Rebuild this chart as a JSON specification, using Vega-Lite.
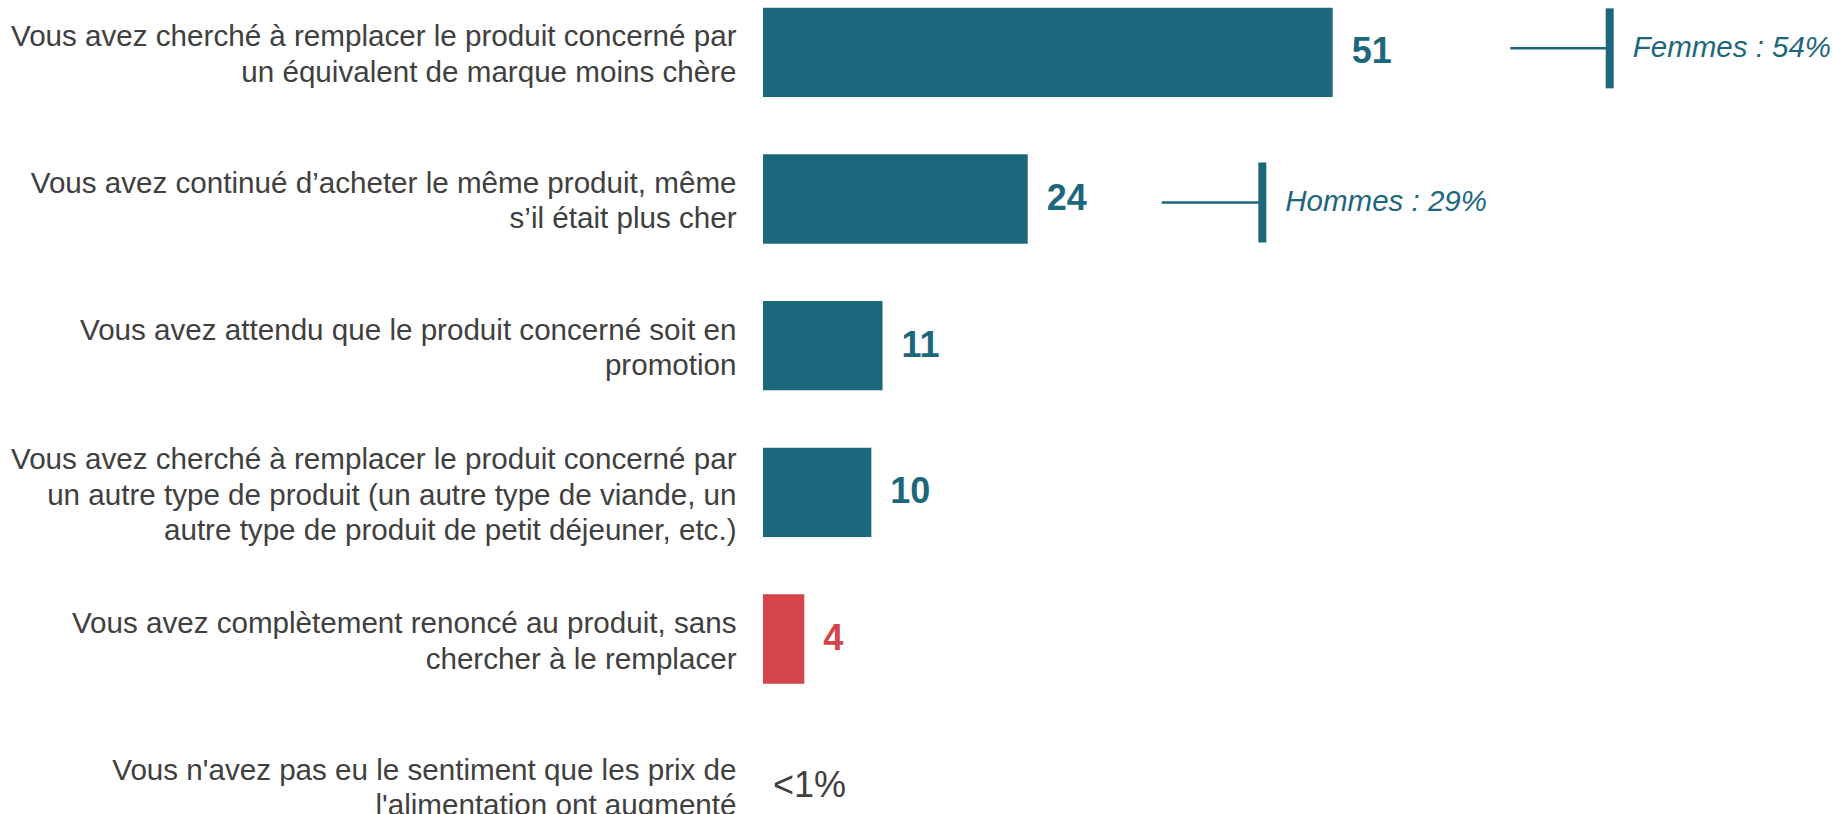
{
  "$schema": "https://vega.github.io/schema/vega-lite/v6.json",
  "width": 1069,
  "height": 814,
  "autosize": {"type": "none"},
  "padding": {"left": 763, "top": 0, "right": 0, "bottom": 0},
  "background": "white",
  "config": {
    "view": {"stroke": null},
    "font": "Liberation Sans",
    "axis": {"grid": false}
  },
  "datasets": {
    "bars": [
      {"reponse": "Vous avez cherché à remplacer le produit concerné par|un équivalent de marque moins chère", "pct": 51.0, "label": "51", "groupe": "principal"},
      {"reponse": "Vous avez continué d’acheter le même produit, même|s’il était plus cher", "pct": 23.7, "label": "24", "groupe": "principal"},
      {"reponse": "Vous avez attendu que le produit concerné soit en|promotion", "pct": 10.7, "label": "11", "groupe": "principal"},
      {"reponse": "Vous avez cherché à remplacer le produit concerné par|un autre type de produit (un autre type de viande, un|autre type de produit de petit déjeuner, etc.)", "pct": 9.7, "label": "10", "groupe": "principal"},
      {"reponse": "Vous avez complètement renoncé au produit, sans|chercher à le remplacer", "pct": 3.7, "label": "4", "groupe": "renoncement"},
      {"reponse": "Vous n'avez pas eu le sentiment que les prix de|l'alimentation ont augmenté", "pct": 0, "label": "<1%", "groupe": "aucun"}
    ],
    "annotations": [
      {"reponse": "Vous avez cherché à remplacer le produit concerné par|un équivalent de marque moins chère", "debut": 66.9, "fin": 75.8, "texte": "Femmes : 54%"},
      {"reponse": "Vous avez continué d’acheter le même produit, même|s’il était plus cher", "debut": 35.7, "fin": 44.7, "texte": "Hommes : 29%"}
    ]
  },
  "encoding": {
    "y": {
      "field": "reponse",
      "type": "nominal",
      "scale": {
        "domain": [
          "Vous avez cherché à remplacer le produit concerné par|un équivalent de marque moins chère",
          "Vous avez continué d’acheter le même produit, même|s’il était plus cher",
          "Vous avez attendu que le produit concerné soit en|promotion",
          "Vous avez cherché à remplacer le produit concerné par|un autre type de produit (un autre type de viande, un|autre type de produit de petit déjeuner, etc.)",
          "Vous avez complètement renoncé au produit, sans|chercher à le remplacer",
          "Vous n'avez pas eu le sentiment que les prix de|l'alimentation ont augmenté"
        ],
        "range": [0, 838],
        "paddingInner": 0.391,
        "paddingOuter": 0.0523
      },
      "axis": {
        "title": null,
        "domain": false,
        "ticks": false,
        "labelPadding": 27,
        "labelFontSize": 29.6,
        "labelColor": "#404040",
        "labelLineHeight": 35.5,
        "labelLimit": 1000,
        "labelAlign": "right",
        "labelBaseline": "middle",
        "labelOffset": {"condition": {"test": "length(split(datum.value, '|')) == 3", "value": -32}, "value": -15},
        "labelExpr": "split(datum.value, '|')"
      }
    }
  },
  "layer": [
    {
      "data": {"name": "bars"},
      "mark": {"type": "bar"},
      "encoding": {
        "x": {"field": "pct", "type": "quantitative", "scale": {"domain": [0, 95.7], "nice": false, "zero": true}, "axis": null},
        "color": {"field": "groupe", "type": "nominal", "scale": {"domain": ["principal", "renoncement", "aucun"], "range": ["#1d677d", "#d6444b", "#404040"]}, "legend": null}
      }
    },
    {
      "data": {"name": "bars"},
      "transform": [{"filter": "datum.groupe != 'aucun'"}],
      "mark": {"type": "text", "align": "left", "baseline": "middle", "dx": 19, "fontSize": 36, "fontWeight": "bold"},
      "encoding": {
        "x": {"field": "pct", "type": "quantitative"},
        "text": {"field": "label"},
        "color": {"field": "groupe", "type": "nominal", "legend": null}
      }
    },
    {
      "data": {"name": "bars"},
      "transform": [{"filter": "datum.groupe == 'aucun'"}],
      "mark": {"type": "text", "align": "left", "baseline": "middle", "dx": 10, "fontSize": 36, "color": "#404040"},
      "encoding": {
        "x": {"field": "pct", "type": "quantitative"},
        "text": {"field": "label"}
      }
    },
    {
      "data": {"name": "annotations"},
      "transform": [{"filter": "datum.texte == 'Femmes : 54%'"}],
      "layer": [
        {
          "mark": {"type": "rule", "color": "#1d677d", "strokeWidth": 2.5, "yOffset": -4},
          "encoding": {"x": {"field": "debut", "type": "quantitative"}, "x2": {"field": "fin"}}
        },
        {
          "mark": {"type": "tick", "orient": "vertical", "color": "#1d677d", "thickness": 8, "size": 80, "opacity": 1, "yOffset": -4},
          "encoding": {"x": {"field": "fin", "type": "quantitative"}}
        },
        {
          "mark": {"type": "text", "align": "left", "baseline": "middle", "dx": 23, "fontSize": 29.5, "fontStyle": "italic", "color": "#1d677d", "yOffset": -4},
          "encoding": {"x": {"field": "fin", "type": "quantitative"}, "text": {"field": "texte"}}
        }
      ]
    },
    {
      "data": {"name": "annotations"},
      "transform": [{"filter": "datum.texte == 'Hommes : 29%'"}],
      "layer": [
        {
          "mark": {"type": "rule", "color": "#1d677d", "strokeWidth": 2.5, "yOffset": 3.5},
          "encoding": {"x": {"field": "debut", "type": "quantitative"}, "x2": {"field": "fin"}}
        },
        {
          "mark": {"type": "tick", "orient": "vertical", "color": "#1d677d", "thickness": 8, "size": 80, "opacity": 1, "yOffset": 3.5},
          "encoding": {"x": {"field": "fin", "type": "quantitative"}}
        },
        {
          "mark": {"type": "text", "align": "left", "baseline": "middle", "dx": 23, "fontSize": 29.5, "fontStyle": "italic", "color": "#1d677d", "yOffset": 3.5},
          "encoding": {"x": {"field": "fin", "type": "quantitative"}, "text": {"field": "texte"}}
        }
      ]
    }
  ]
}
